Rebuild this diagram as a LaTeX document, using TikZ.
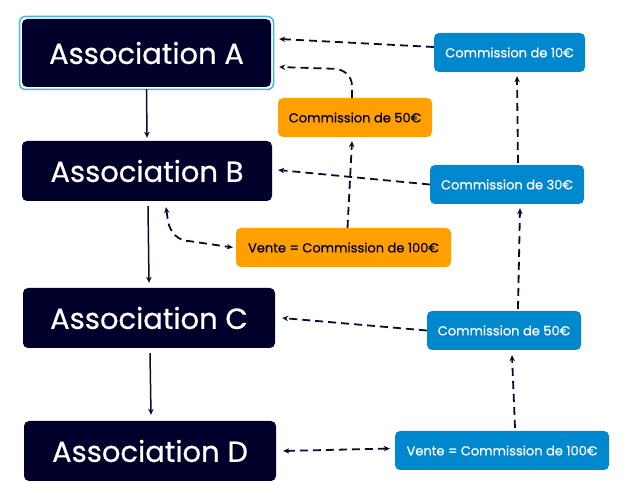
\documentclass[tikz,border=0pt]{standalone}
\usepackage{fontspec}
\setmainfont{Poppins}[FakeBold=0.6]
\usetikzlibrary{arrows.meta,calc}
\definecolor{navy}{HTML}{00002A}
\definecolor{lineblue}{HTML}{0A0A33}
\definecolor{cyanb}{HTML}{3DB8F0}
\definecolor{orangeb}{HTML}{FF9F00}
\definecolor{blueb}{HTML}{0088CF}
\tikzset{
  assoc/.style={fill=navy, rounded corners=5pt, text=white, font=\fontsize{29}{33}\selectfont, inner sep=0pt, minimum height=60pt},
  orbox/.style={fill=orangeb, rounded corners=5pt, text=navy, font=\fontsize{13}{15}\selectfont, inner sep=0pt, minimum height=39pt},
  blbox/.style={fill=blueb, rounded corners=5pt, text=white, font=\fontsize{13}{15}\selectfont, inner sep=0pt, minimum height=39pt},
  solidarr/.style={draw=lineblue, line width=1.5pt, -{Stealth[length=6pt,width=5.5pt]}},
  dasharr/.style={draw=lineblue, line width=1.8pt, dash pattern=on 8pt off 5pt, -{Stealth[length=6pt,width=5.5pt]}},
  dasharrb/.style={draw=lineblue, line width=1.8pt, dash pattern=on 8pt off 5pt, {Stealth[length=6pt,width=5.5pt]}-{Stealth[length=6pt,width=5.5pt]}},
}
\begin{document}
\begin{tikzpicture}[x=1pt,y=-1pt]
\useasboundingbox (0,0) rectangle (633,497);
% Association A with cyan frame
\node[draw=cyanb, line width=1.5pt, rounded corners=6pt, minimum width=254pt, minimum height=73pt, inner sep=0pt] (Aframe) at (146.5,53) {};
\node[assoc, minimum width=249pt, minimum height=68pt] (A) at (146.5,53) {Association A};
\node[assoc, minimum width=250pt] (B) at (147,171) {Association B};
\node[assoc, minimum width=252pt] (C) at (149,318) {Association C};
\node[assoc, minimum width=252pt] (D) at (150,451) {Association D};
\node[orbox, minimum width=154pt] (O1) at (355,117.5) {Commission de 50€};
\node[orbox, minimum width=215pt] (O2) at (343.5,247.5) {Vente = Commission de 100€};
\node[blbox, minimum width=151pt] (B1) at (509.5,52.5) {Commission de 10€};
\node[blbox, minimum width=154pt] (B2) at (507,184.5) {Commission de 30€};
\node[blbox, minimum width=154pt] (B3) at (504,330.5) {Commission de 50€};
\node[blbox, minimum width=214pt] (B4) at (502,450.5) {Vente = Commission de 100€};
% solid arrows
\draw[solidarr] ([yshift=-2pt]A.south) -- ([yshift=3pt]B.north);
\draw[solidarr] ([xshift=1pt,yshift=-5pt]B.south) -- ([xshift=0pt,yshift=5pt]C.north);
\draw[solidarr] ([xshift=1pt,yshift=-5pt]C.south) -- ([xshift=1pt,yshift=6pt]D.north);
% dashed arrows
\draw[dasharr] ([yshift=5.5pt]B1.west) -- ([xshift=8pt,yshift=14pt]A.east);
\draw[dasharr] ([xshift=-3pt]O1.north) -- ++(0,-12) to[out=90,in=0] ++(-18,-17) -- ([xshift=8pt,yshift=-14pt]A.east);
\draw[dasharr] ([xshift=4pt]O2.north) -- ([xshift=-3pt,yshift=-4pt]O1.south);
\draw[dasharrb] ([xshift=19pt,yshift=-6pt]B.south) -- ++(2,14) to[out=-80,in=180] ++(22,20) -- ([xshift=-3pt]O2.west);
\draw[dasharr] (B2.west) -- ([xshift=6pt,yshift=1pt]B.east);
\draw[dasharr] ([xshift=11pt,yshift=2pt]B2.north) -- ([xshift=7.5pt,yshift=-4pt]B1.south);
\draw[dasharr] ([xshift=14pt,yshift=2pt]B3.north) -- ([xshift=13pt,yshift=-4pt]B2.south);
\draw[dasharr] (B3.west) -- ([xshift=7pt]C.east);
\draw[dasharr] ([xshift=13pt,yshift=3pt]B4.north) -- ([xshift=8pt,yshift=-5pt]B3.south);
\draw[dasharrb] ([xshift=7pt]D.east) -- ([xshift=-5pt,yshift=2pt]B4.west);
\end{tikzpicture}
\end{document}
